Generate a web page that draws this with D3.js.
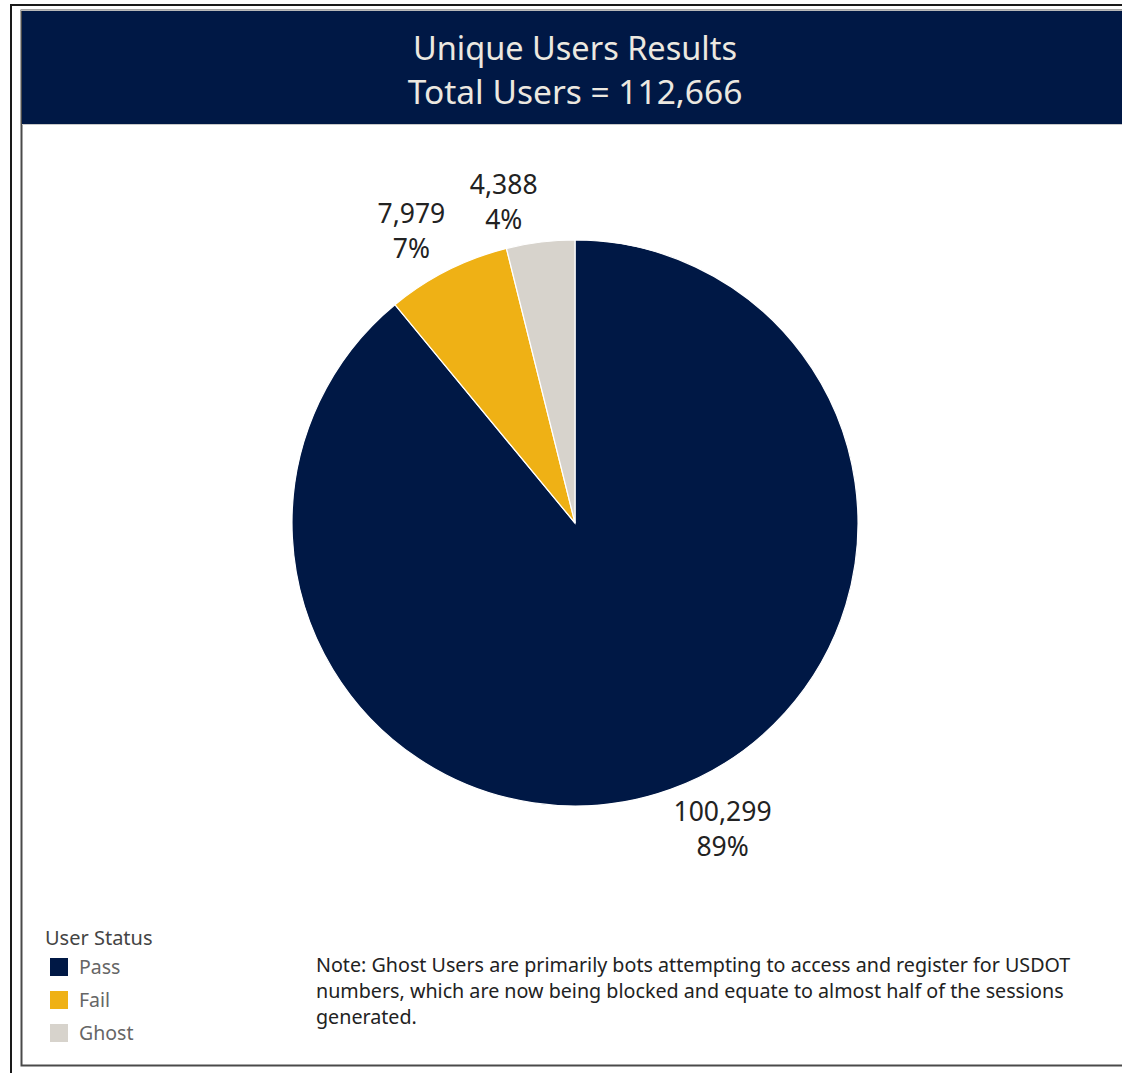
<!DOCTYPE html>
<html>
<head>
<meta charset="utf-8">
<script src="https://cdn.jsdelivr.net/npm/d3@7/dist/d3.min.js"></script>
<style>
  html, body { margin: 0; padding: 0; background: #fff; }
  svg { display: block; }
</style>
</head>
<body>
<svg id="chart" width="1122" height="1073"></svg>
<script>
// ---- Data ----
const categories = ["Pass", "Fail", "Ghost"];
const values = [100299, 7979, 4388];
const percentLabels = ["89%", "7%", "4%"];
const titleLines = ["Unique Users Results", "Total Users = 112,666"];
const legendTitle = "User Status";
const noteLines = [
  "Note: Ghost Users are primarily bots attempting to access and register for USDOT",
  "numbers, which are now being blocked and equate to almost half of the sessions",
  "generated."
];

// ---- Style / layout ----
const colors = ["#001845", "#EFB115", "#D7D3CC"];
const FONT = "'Noto Sans', 'Open Sans', sans-serif";
const W = 1122, H = 1073;
const cx = 575, cy = 523, R = 283;
const labelR = 330;
const labelNudge = { Pass: [36, -5], Fail: [-15, 3], Ghost: [-31, 7] };
const titleSizes = [32.5, 33.5];

const svg = d3.select("#chart");

// Frames
svg.append("rect").attr("x", 11).attr("y", 5).attr("width", W + 20).attr("height", H + 20)
  .attr("fill", "none").attr("stroke", "#1a1a1a").attr("stroke-width", 2);
svg.append("rect").attr("x", 21.5).attr("y", 10.5).attr("width", W + 20).attr("height", 1055)
  .attr("fill", "none").attr("stroke", "#4a4a4a").attr("stroke-width", 2);
svg.append("line").attr("x1", 21).attr("x2", W).attr("y1", 10.5).attr("y2", 10.5)
  .attr("stroke", "#b8b8b8").attr("stroke-width", 1);

// Header
svg.append("rect").attr("x", 22).attr("y", 11).attr("width", W - 22).attr("height", 113)
  .attr("fill", "#001845");
svg.append("line").attr("x1", 22).attr("x2", W).attr("y1", 124.5).attr("y2", 124.5)
  .attr("stroke", "#c8c8c8").attr("stroke-width", 1);

svg.selectAll("text.title").data(titleLines).join("text")
  .attr("class", "title")
  .attr("x", 575)
  .attr("y", (d, i) => 60 + i * 44)
  .attr("text-anchor", "middle")
  .attr("font-family", FONT)
  .attr("font-size", (d, i) => titleSizes[i])
  .attr("fill", "#ECE8E0")
  .text(d => d);

// Pie
const data = categories.map((c, i) => ({ cat: c, value: values[i], pct: percentLabels[i], color: colors[i] }));
const pie = d3.pie().value(d => d.value).sort(null);
const arcs = pie(data);
const arc = d3.arc().innerRadius(0).outerRadius(R);
const labelArc = d3.arc().innerRadius(labelR).outerRadius(labelR);

const g = svg.append("g").attr("transform", `translate(${cx},${cy})`);
g.selectAll("path").data(arcs).join("path")
  .attr("d", arc)
  .attr("fill", d => d.data.color)
  .attr("stroke", "#ffffff")
  .attr("stroke-width", 1.2);

const fmt = d3.format(",");
const lab = g.selectAll("g.lab").data(arcs).join("g").attr("class", "lab")
  .attr("transform", d => {
    const c = labelArc.centroid(d);
    const n = labelNudge[d.data.cat];
    return `translate(${c[0] + n[0]},${c[1] + n[1]})`;
  });
lab.append("text")
  .attr("y", -8)
  .attr("text-anchor", "middle")
  .attr("font-family", FONT)
  .attr("font-size", 26.5)
  .attr("fill", "#222")
  .text(d => fmt(d.data.value));
lab.append("text")
  .attr("y", 27)
  .attr("text-anchor", "middle")
  .attr("font-family", FONT)
  .attr("font-size", 26.5)
  .attr("fill", "#222")
  .text(d => d.data.pct);

// Legend
svg.append("text")
  .attr("x", 45).attr("y", 945)
  .attr("font-family", FONT).attr("font-size", 20)
  .attr("fill", "#444")
  .text(legendTitle);
const leg = svg.selectAll("g.leg").data(data).join("g").attr("class", "leg")
  .attr("transform", (d, i) => `translate(50,${958 + i * 33})`);
leg.append("rect").attr("width", 18).attr("height", 18).attr("fill", d => d.color);
leg.append("text").attr("x", 29).attr("y", 16)
  .attr("font-family", FONT).attr("font-size", 19.5)
  .attr("fill", "#666")
  .text(d => d.cat);

// Note
svg.selectAll("text.note").data(noteLines).join("text")
  .attr("class", "note")
  .attr("x", 316)
  .attr("y", (d, i) => 972 + i * 26)
  .attr("font-family", FONT)
  .attr("font-size", 19.7)
  .attr("fill", "#222")
  .text(d => d);
</script>
</body>
</html>
